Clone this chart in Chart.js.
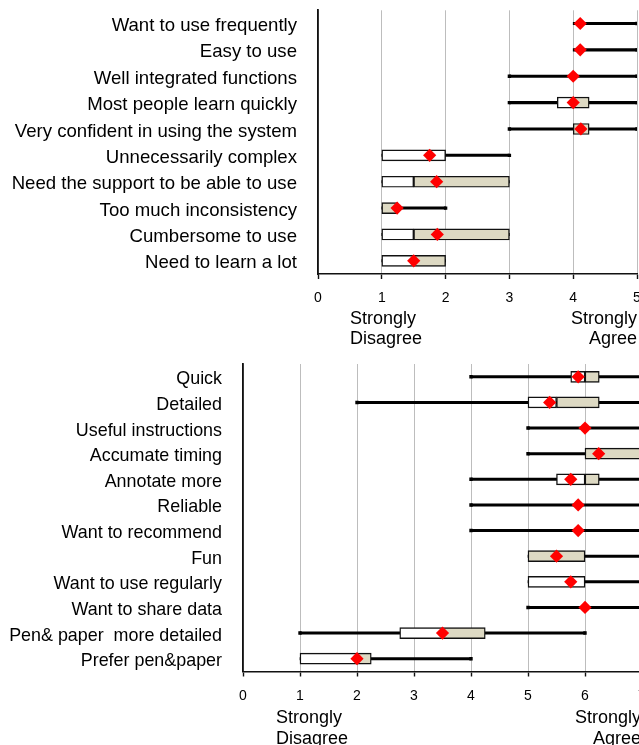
<!DOCTYPE html>
<html>
<head>
<meta charset="utf-8">
<script src="https://cdn.jsdelivr.net/npm/chart.js@4"></script>
<style>
  html, body { margin: 0; padding: 0; background: #fff; overflow: hidden; width: 639px; height: 745px; }
  #c1 { position: absolute; left: 0; top: 0; }
  #c2 { position: absolute; left: 0; top: 350px; }
</style>
</head>
<body>
<canvas id="c1" width="680" height="350"></canvas>
<canvas id="c2" width="700" height="395"></canvas>
<script>
// ---------- Data: top chart (SUS items, scale 0-5) ----------
const labelsTop = [
  'Want to use frequently', 'Easy to use', 'Well integrated functions',
  'Most people learn quickly', 'Very confident in using the system',
  'Unnecessarily complex', 'Need the support to be able to use',
  'Too much inconsistency', 'Cumbersome to use', 'Need to learn a lot'
];
const minTop    = [4, 4, 3, 3,    3,    1, 1,   1,    1,   1];
const q1Top     = [4, 4, 4, 3.75, 4,    1, 1,   1,    1,   1];
const medianTop = [4, 4, 4, 4,    4,    2, 1.5, 1,    1.5, 1.5];
const q3Top     = [4, 4, 4, 4.25, 4.25, 2, 3,   1.25, 3,   2];
const maxTop    = [5, 5, 5, 5,    5,    3, 3,   2,    3,   2];
const meanTop   = [4.11, 4.11, 4.0, 4.0, 4.12, 1.75, 1.86, 1.24, 1.87, 1.5];
const ticksTop  = [0, 1, 2, 3, 4, 5];

// ---------- Data: bottom chart (scale 0-7) ----------
const labelsBottom = [
  'Quick', 'Detailed', 'Useful instructions', 'Accumate timing', 'Annotate more',
  'Reliable', 'Want to recommend', 'Fun', 'Want to use regularly',
  'Want to share data', 'Pen& paper  more detailed', 'Prefer pen&paper'
];
const minBottom    = [4,    2,    5, 5, 4,    4, 4, 5, 5, 5, 1,    1];
const q1Bottom     = [5.75, 5,    6, 6, 5.5,  6, 6, 5, 5, 6, 2.75, 1];
const medianBottom = [6,    5.5,  6, 6, 6,    6, 6, 5, 6, 6, 3.5,  2];
const q3Bottom     = [6.25, 6.25, 6, 7, 6.25, 6, 6, 6, 6, 6, 4.25, 2.25];
const maxBottom    = [7,    7,    7, 7, 7,    7, 7, 7, 7, 7, 6,    4];
const meanBottom   = [5.88, 5.38, 6.0, 6.24, 5.75, 5.88, 5.88, 5.5, 5.75, 6.0, 3.5, 2.0];
const ticksBottom  = [0, 1, 2, 3, 4, 5, 6, 7];

const captionLow  = ['Strongly', 'Disagree'];
const captionHigh = ['Strongly', 'Agree'];

// ---------- Styling ----------
const FONT = "'Liberation Sans', Arial, sans-serif";
const BEIGE = '#ddd9c3';

function buildDatasets(mn, q1, med, q3, mx, mean) {
  const whisker = mn.map((v, i) => (v < mx[i] ? [v, mx[i]] : null));
  const lower = q1.map((v, i) => (v < med[i] ? [v, med[i]] : null));
  const upper = med.map((v, i) => (v < q3[i] ? [v, q3[i]] : null));
  const capLo = mn.map((v, i) => (v < q1[i] ? v : null));
  const capHi = mx.map((v, i) => (v > q3[i] ? v : null));
  const boxStyle = {
    type: 'bar', grouped: false, barThickness: 11,
    borderColor: '#111', borderWidth: 1.4, borderSkipped: false
  };
  const capStyle = {
    type: 'line', showLine: false, pointStyle: 'rect', pointRadius: 2.4,
    pointBackgroundColor: '#000', pointBorderWidth: 0, order: 3
  };
  return [
    { type: 'bar', data: whisker, grouped: false, barThickness: 2.4,
      backgroundColor: '#000', borderWidth: 0, order: 4 },
    Object.assign({ data: capLo }, capStyle),
    Object.assign({ data: capHi }, capStyle),
    Object.assign({ data: lower, backgroundColor: '#ffffff', order: 2 }, boxStyle),
    Object.assign({ data: upper, backgroundColor: BEIGE, order: 2 }, boxStyle),
    { type: 'line', data: mean, showLine: false, pointStyle: 'rectRot',
      pointRadius: 6.6, pointBackgroundColor: '#ff0000', pointBorderWidth: 0, order: 1 }
  ];
}

const captionPlugin = {
  id: 'captions',
  afterDraw(chart, args, opts) {
    const ctx = chart.ctx;
    const xs = chart.scales.x;
    const base = chart.chartArea.bottom;
    ctx.save();
    ctx.fillStyle = '#000';
    ctx.font = '18px ' + FONT;
    ctx.textBaseline = 'alphabetic';
    ctx.textAlign = 'left';
    const lx = xs.getPixelForValue(xs.min) + opts.dxLeft;
    opts.low.forEach((t, i) => ctx.fillText(t, lx, base + opts.baselines[i]));
    ctx.textAlign = 'right';
    const rx = xs.getPixelForValue(xs.max) + opts.dxRight;
    opts.high.forEach((t, i) => ctx.fillText(t, rx, base + opts.baselines[i]));
    ctx.restore();
  }
};

function makeChart(id, labels, datasets, tickValues, yWidth, xHeight, padding, labelSize, captionOpts) {
  return new Chart(document.getElementById(id), {
    type: 'bar',
    data: { labels: labels, datasets: datasets },
    plugins: [captionPlugin],
    options: {
      indexAxis: 'y',
      responsive: false,
      animation: false,
      events: [],
      layout: { padding: padding },
      plugins: {
        legend: { display: false },
        tooltip: { enabled: false },
        captions: captionOpts
      },
      scales: {
        x: {
          type: 'linear',
          min: tickValues[0],
          max: tickValues[tickValues.length - 1],
          afterBuildTicks: (s) => { s.ticks = tickValues.map(v => ({ value: v })); },
          afterFit: (s) => { s.height = xHeight; },
          grid: { color: '#bdbdbd', lineWidth: 1, drawTicks: true, tickLength: 5,
                  tickColor: '#111', tickWidth: 1.4 },
          border: { display: true, color: '#111', width: 1.6 },
          ticks: { color: '#000', padding: 11, font: { family: FONT, size: 14 },
                   maxRotation: 0, autoSkip: false }
        },
        y: {
          afterFit: (s) => { s.width = yWidth; },
          grid: { display: true, color: 'transparent', drawTicks: true, tickLength: 20,
                  tickColor: 'transparent' },
          border: { display: true, color: '#111', width: 1.8 },
          ticks: { color: '#000', padding: 1, autoSkip: false, labelOffset: 2.5,
                   font: { family: FONT, size: labelSize, lineHeight: 1 } }
        }
      }
    }
  });
}

makeChart('c1', labelsTop,
  buildDatasets(minTop, q1Top, medianTop, q3Top, maxTop, meanTop),
  ticksTop, 318, 76, { top: 10, right: 43, bottom: 0, left: 0 }, 18.6,
  { low: captionLow, high: captionHigh, dxLeft: 32, dxRight: 0, baselines: [49.5, 69.5] });

makeChart('c2', labelsBottom,
  buildDatasets(minBottom, q1Bottom, medianBottom, q3Bottom, maxBottom, meanBottom),
  ticksBottom, 243, 73.5, { top: 14, right: 58, bottom: 0, left: 0 }, 17.9,
  { low: captionLow, high: captionHigh, dxLeft: 33, dxRight: -1, baselines: [51.2, 72.5] });
</script>
</body>
</html>
